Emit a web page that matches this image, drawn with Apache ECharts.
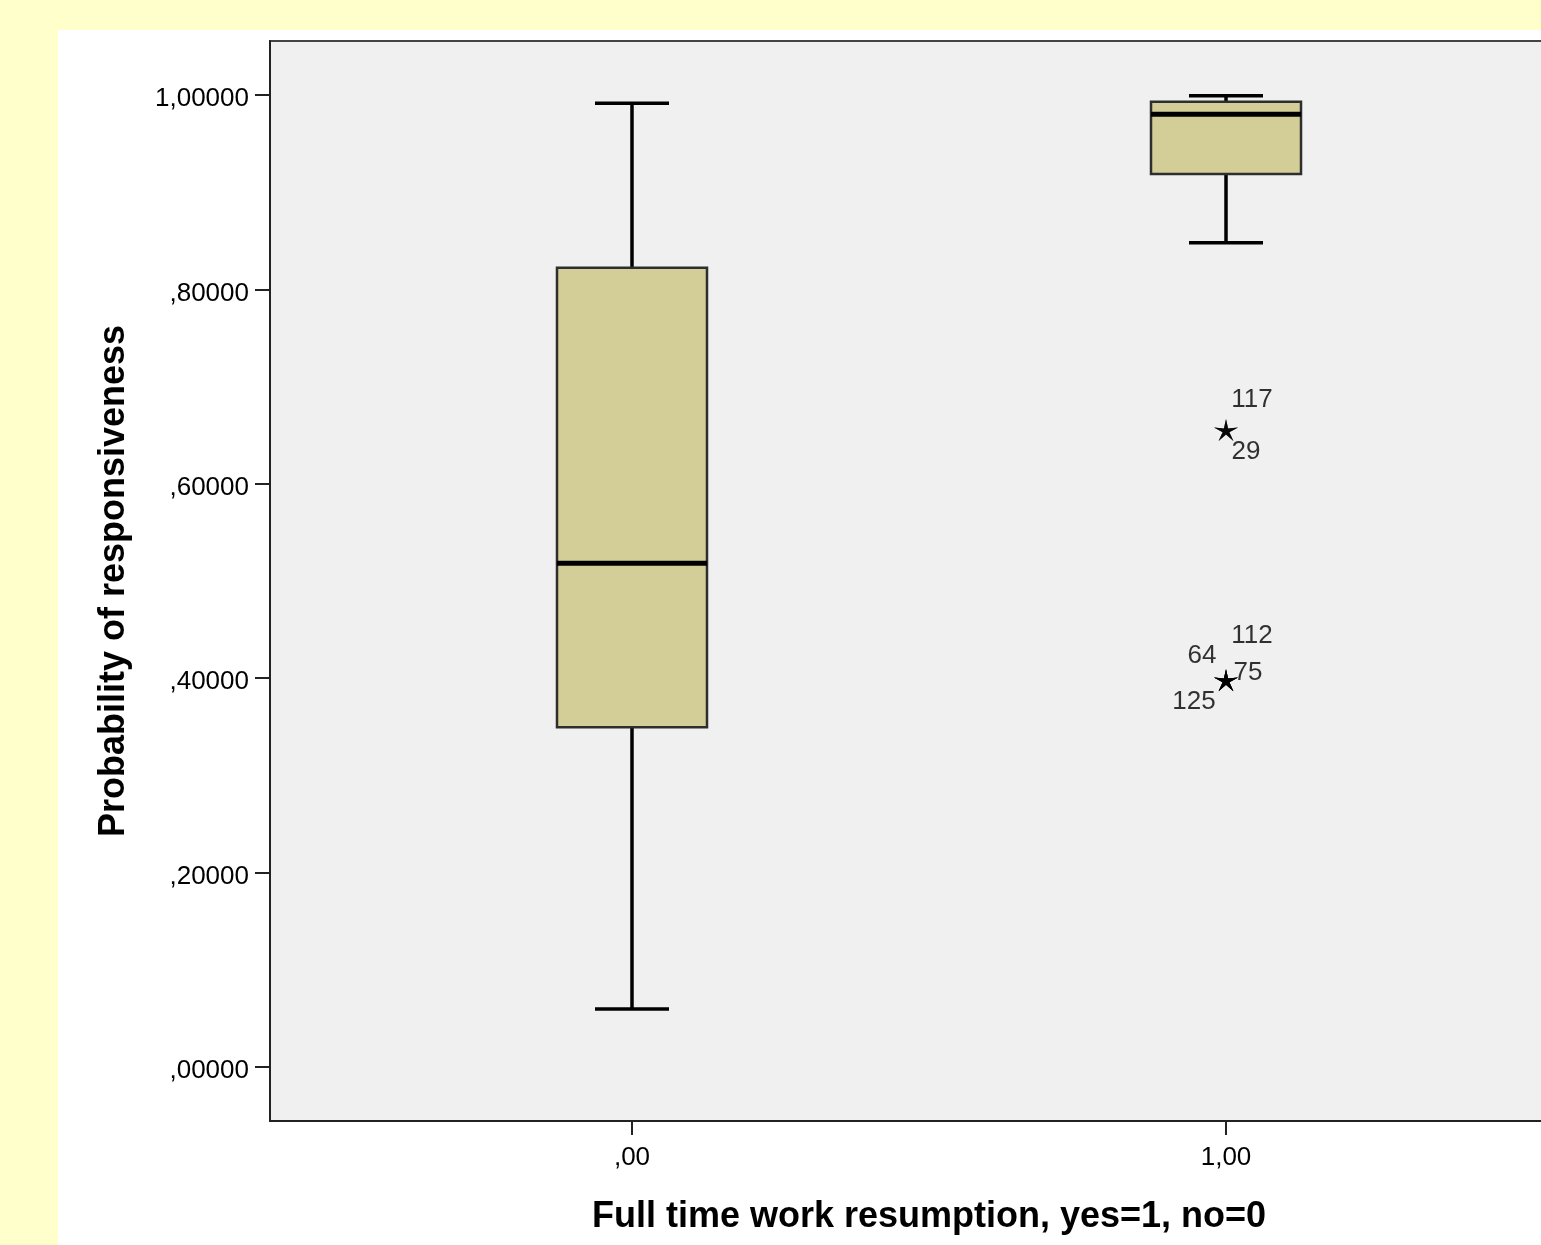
<!DOCTYPE html>
<html>
<head>
<meta charset="utf-8">
<script src="https://cdn.jsdelivr.net/npm/echarts@6/dist/echarts.min.js"></script>
<style>
  html, body { margin: 0; padding: 0; background: #FFFFCC; overflow: hidden; }
  /* plot runs past the right edge of the window, as in the original */
  #chart { position: absolute; left: 58px; top: 30px; width: 1530px; height: 1215px; background: #fff; }
</style>
</head>
<body>
<div id="chart"></div>
<script>
// groups on the x axis (0 = no, 1 = yes)
const groupX = [0, 1];
const groupLabels = [',00', '1,00'];
// box statistics per group
const whiskerLow = [0.0597, 0.848];
const q1 = [0.3495, 0.9187];
const median = [0.5182, 0.9801];
const q3 = [0.8223, 0.9931];
const whiskerHigh = [0.9914, 0.9993];
// extreme values (case numbers)
const outlierIds = [117, 29, 112, 64, 75, 125];
const outlierGroup = [1, 1, 1, 1, 1, 1];
const outlierValues = [0.6553, 0.6553, 0.398, 0.398, 0.398, 0.398];
const yTicks = [0, 0.2, 0.4, 0.6, 0.8, 1.0];

// label placement around the star marks
const labelOffsets = {
  117: [26, -30], 29: [20, 22],
  112: [26, -44], 64: [-24, -24], 75: [22, -7], 125: [-32, 22]
};
const BOX_WIDTH = 150;
const CAP_WIDTH = 74;
const FONT = '"Liberation Sans", Arial, sans-serif';
const starPath = 'path://M50 0 L58.23 38.67 L97.55 34.55 L63.31 54.33 L79.39 90.45 L50 64 L20.61 90.45 L36.69 54.33 L2.45 34.55 L41.77 38.67 Z';

function fmtY(v) {
  // SPSS style: comma decimal, no leading zero
  return '{t|' + v.toFixed(5).replace('.', ',').replace(/^0/, '') + '}';
}

function renderBox(params, api) {
  const x = api.value(0);
  const pLo = api.coord([x, api.value(1)]);
  const pQ1 = api.coord([x, api.value(2)]);
  const pMed = api.coord([x, api.value(3)]);
  const pQ3 = api.coord([x, api.value(4)]);
  const pHi = api.coord([x, api.value(5)]);
  const cx = pLo[0];
  const hb = BOX_WIDTH / 2, hc = CAP_WIDTH / 2;
  const line = (x1, y1, x2, y2, w) => ({
    type: 'line', shape: {x1, y1, x2, y2}, style: {stroke: '#000', lineWidth: w}
  });
  return {
    type: 'group',
    children: [
      line(cx, pLo[1], cx, pQ1[1], 3.5),
      line(cx, pQ3[1], cx, pHi[1], 3.5),
      line(cx - hc, pLo[1], cx + hc, pLo[1], 3.5),
      line(cx - hc, pHi[1], cx + hc, pHi[1], 3.5),
      {
        type: 'rect',
        shape: {x: cx - hb, y: pQ3[1], width: BOX_WIDTH, height: pQ1[1] - pQ3[1]},
        style: {fill: '#D3CE97', stroke: '#2e2e2e', lineWidth: 2.5}
      },
      line(cx - hb, pMed[1], cx + hb, pMed[1], 5)
    ]
  };
}

const chart = echarts.init(document.getElementById('chart'), null, {renderer: 'canvas'});

const boxData = groupX.map((g, i) => [g, whiskerLow[i], q1[i], median[i], q3[i], whiskerHigh[i]]);
const outlierData = outlierIds.map((id, i) => ({
  value: [outlierGroup[i], outlierValues[i]],
  name: String(id),
  label: {offset: labelOffsets[id]}
}));

const opt = {
  animation: false,
  textStyle: {fontFamily: FONT},
  grid: {
    left: 212,
    top: 11,
    bottom: 124,
    right: 0,
    show: true,
    backgroundColor: '#F0F0F0',
    borderColor: '#444',
    borderWidth: 2
  },
  xAxis: {
    type: 'value',
    min: -0.6094,
    max: 1.6094,
    splitLine: {show: false},
    axisLine: {show: true, onZero: false, lineStyle: {color: '#222', width: 2}},
    axisTick: {show: true, length: 14, customValues: groupX, lineStyle: {color: '#222', width: 2}},
    axisLabel: {
      customValues: groupX,
      margin: 24,
      fontSize: 26,
      color: '#000',
      fontFamily: FONT,
      formatter: (v) => groupLabels[groupX.indexOf(v)]
    },
    name: 'Full time work resumption, yes=1, no=0',
    nameLocation: 'middle',
    nameGap: 78,
    nameTextStyle: {fontSize: 36, fontWeight: 'bold', color: '#000', fontFamily: FONT}
  },
  yAxis: {
    type: 'value',
    min: -0.05556,
    max: 1.05556,
    splitLine: {show: false},
    axisLine: {show: true, onZero: false, lineStyle: {color: '#222', width: 2}},
    axisTick: {show: true, length: 15, customValues: yTicks, lineStyle: {color: '#222', width: 2}},
    axisLabel: {
      customValues: yTicks,
      margin: 21,
      fontSize: 26,
      color: '#000',
      fontFamily: FONT,
      formatter: fmtY,
      rich: {
        t: {fontSize: 26, color: '#000', fontFamily: FONT, padding: [8, 0, 0, 0]}
      }
    },
    name: 'Probability of responsiveness',
    nameLocation: 'middle',
    nameGap: 138,
    nameTextStyle: {fontSize: 36, fontWeight: 'bold', color: '#000', fontFamily: FONT}
  },
  series: [
    {
      type: 'custom',
      renderItem: renderBox,
      encode: {x: 0, y: [1, 2, 3, 4, 5]},
      data: boxData,
      silent: true
    },
    {
      type: 'scatter',
      symbol: starPath,
      symbolSize: [24, 22],
      itemStyle: {color: '#000'},
      label: {
        show: true,
        position: 'inside',
        formatter: (p) => p.name,
        fontSize: 26,
        color: '#000',
        textBorderWidth: 0,
        fontFamily: FONT
      },
      data: outlierData,
      silent: true
    }
  ]
};

chart.setOption(opt);
</script>
</body>
</html>
